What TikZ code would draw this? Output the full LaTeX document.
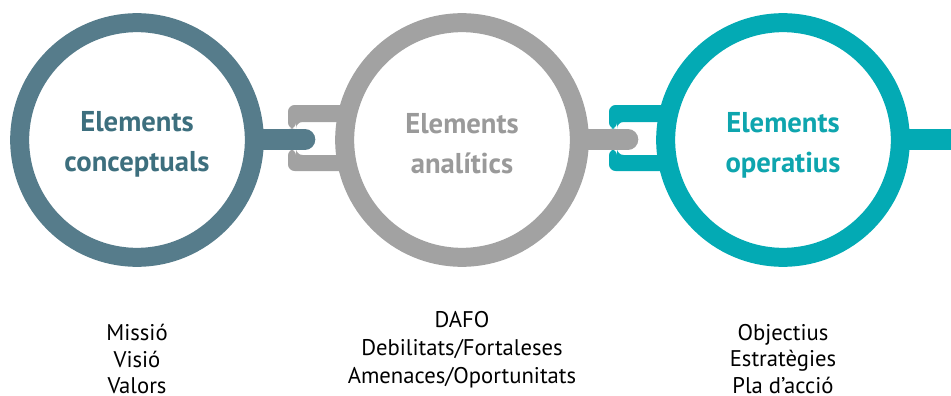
\documentclass[tikz,border=0pt]{standalone}
\usepackage{fontspec}
\setmainfont{PT Sans}
\usetikzlibrary{positioning}

\definecolor{slate}{HTML}{567C8B}
\definecolor{slatetext}{HTML}{3D6F7E}
\definecolor{stone}{HTML}{A2A2A2}
\definecolor{stonetext}{HTML}{9A9A9A}
\definecolor{lagoon}{HTML}{03AAB4}
\definecolor{lagoontext}{HTML}{0EA5AE}

\tikzset{
    ring/.style = {circle, draw=#1, fill=white, line width=14.25pt,
                   minimum size=176pt, inner sep=0pt},
    title/.style = {align=center, inner sep=0pt,
                    font=\fontsize{21.5}{30}\selectfont\bfseries},
    bar/.style = {draw=#1, line width=15.5pt, line cap=round},
    items/.style = {align=center, inner sep=0pt,
                    font=\fontsize{17}{19.7}\selectfont}
}

\begin{document}
\begin{tikzpicture}[x=0.75pt, y=-0.75pt]
    \useasboundingbox (0,0) rectangle (951,396);

    % clamps on the left of the second and third rings
    \foreach \cx/\col in {462/stone, 783/lagoon}
    {
        \fill[\col, rounded corners=5pt]
            (\cx,105) -- (\cx-174,105) -- (\cx-174,129) -- (\cx-166,129)
            -- (\cx-166,122) -- (\cx,122) -- cycle;
        \fill[\col, rounded corners=5pt]
            (\cx,171) -- (\cx-174,171) -- (\cx-174,149) -- (\cx-166,149)
            -- (\cx-166,155) -- (\cx,155) -- cycle;
    }

    \coordinate (tip1) at (305,139.5);
    \coordinate (tip2) at (628,139.5);
    \coordinate (tip3) at (960,139.5);

    \draw[bar=slate] (137,139.5) -- (tip1);
    \draw[bar=stone] (462,139.5) -- (tip2);
    \draw[bar=lagoon, line cap=butt] (783,139.5) -- (tip3);

    \node[ring=slate] (conc) at (137,140) {};
    \node[ring=stone] (anal) at (462,140) {};
    \node[ring=lagoon] (oper) at (783,140) {};

    \node[title, text=slatetext, below=3pt of conc.center, anchor=center] (conctitle) {Elements\\conceptuals};
    \node[title, text=stonetext, below=3pt of anal.center, anchor=center] (analtitle) {Elements\\analítics};
    \node[title, text=lagoontext, below=4pt of oper.center, anchor=center] (opertitle) {Elements\\operatius};

    \node[items, below=43pt of conc] (concitems) {Missió\\Visió\\Valors};
    \node[items, below=33pt of anal, font=\fontsize{17}{21}\selectfont] (analitems) {DAFO\\Debilitats/Fortaleses\\Amenaces/Oportunitats};
    \node[items, below=43pt of oper] (operitems) {Objectius\\Estratègies\\Pla d’acció};
\end{tikzpicture}
\end{document}
